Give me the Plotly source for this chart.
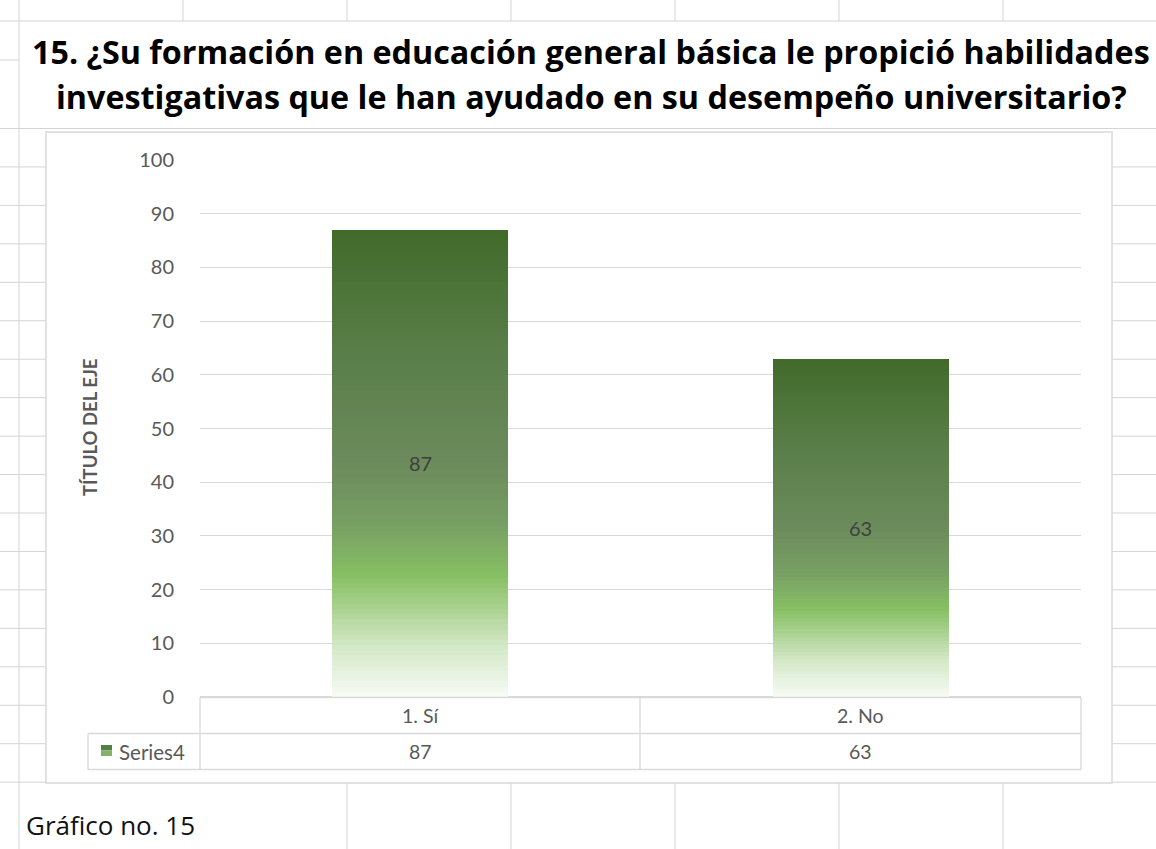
import plotly.graph_objects as go

# ---------------- data ----------------
categories = ["1. Sí", "2. No"]
values = [87, 63]
series_name = "Series4"
y_ticks = [0, 10, 20, 30, 40, 50, 60, 70, 80, 90, 100]
title_lines = [
    "15. ¿Su formación en educación general básica le propició habilidades",
    "investigativas que le han ayudado en su desempeño universitario?",
]
axis_title = "TÍTULO DEL EJE"
caption = "Gráfico no. 15"

# ---------------- geometry (pixels) ----------------
W, H = 1156, 849
PL, PR, PT, PB = 200, 1081, 160, 697  # plot area


def px(x):
    return (x - PL) / (PR - PL)


def py(y):
    return (PB - y) / (PB - PT)


# gradient for bars: position 0 = top, 1 = bottom
grad_stops = [
    (0.00, "#426A2A"),
    (0.25, "#587D47"),
    (0.50, "#6C8B5C"),
    (0.63, "#779F63"),
    (0.74, "#87BF63"),
    (0.81, "#AAD290"),
    (0.89, "#D3E8C6"),
    (1.00, "#F7FBF5"),
]


def hex2rgb(h):
    h = h.lstrip("#")
    return tuple(int(h[i:i + 2], 16) for i in (0, 2, 4))


def grad_color(t):
    for (t0, c0), (t1, c1) in zip(grad_stops[:-1], grad_stops[1:]):
        if t0 <= t <= t1:
            f = (t - t0) / (t1 - t0) if t1 > t0 else 0
            a, b = hex2rgb(c0), hex2rgb(c1)
            r = [round(a[k] + (b[k] - a[k]) * f) for k in range(3)]
            return "rgb(%d,%d,%d)" % tuple(r)
    return grad_stops[-1][1]


fig = go.Figure()

N = 90
for i in range(N):
    t = 1 - (i + 0.5) / N
    fig.add_trace(go.Bar(
        x=categories,
        y=[v / N for v in values],
        marker=dict(color=grad_color(t), line=dict(width=0)),
        showlegend=False,
        hoverinfo="skip",
    ))

# data labels
annotations = []
for c, v in zip(categories, values):
    annotations.append(dict(x=c, y=v / 2, xref="x", yref="y", text=str(v),
                            xanchor="center", yanchor="middle",
                            showarrow=False, font=dict(size=20, color="#404040")))

# data table texts
for c, v in zip(categories, values):
    annotations.append(dict(x=c, y=py(715.5), xref="x", yref="paper", text=c,
                            xanchor="center", yanchor="middle",
                            showarrow=False, font=dict(size=19.5, color="#595959")))
    annotations.append(dict(x=c, y=py(751.5), xref="x", yref="paper", text=str(v),
                            xanchor="center", yanchor="middle",
                            showarrow=False, font=dict(size=19.5, color="#595959")))
annotations.append(dict(x=px(117), y=py(751.5), xref="paper", yref="paper",
                        text=series_name, xanchor="left", yanchor="middle", showarrow=False,
                        font=dict(size=20.5, color="#595959")))

# title
TITLE_FONT = dict(family="Open Sans", size=32.3, color="#000000")
annotations.append(dict(x=px(591), y=py(51), xref="paper", yref="paper",
                        text="<b>%s</b>" % title_lines[0], showarrow=False,
                        xanchor="center", yanchor="middle", font=TITLE_FONT))
annotations.append(dict(x=px(591), y=py(96), xref="paper", yref="paper",
                        text="<b>%s</b>" % title_lines[1], showarrow=False,
                        xanchor="center", yanchor="middle", font=TITLE_FONT))
# axis title
annotations.append(dict(x=px(90), y=py(428), xref="paper", yref="paper",
                        text="<b>%s</b>" % axis_title, showarrow=False, textangle=-90,
                        xanchor="center", yanchor="middle",
                        font=dict(size=18.5, color="#595959")))
# caption
annotations.append(dict(x=px(24), y=py(825), xref="paper", yref="paper",
                        text=caption, showarrow=False, xanchor="left", yanchor="middle",
                        font=dict(family="Open Sans", size=26, color="#111111")))

# ---------------- shapes ----------------
GRID = "#D4D4D4"
shapes = []


def hline(x0, x1, y, color=GRID, w=1, layer="below"):
    shapes.append(dict(type="line", xref="paper", yref="paper", x0=px(x0), x1=px(x1),
                       y0=py(y), y1=py(y), line=dict(color=color, width=w), layer=layer))


def vline(x, y0, y1, color=GRID, w=1, layer="below"):
    shapes.append(dict(type="line", xref="paper", yref="paper", x0=px(x), x1=px(x),
                       y0=py(y0), y1=py(y1), line=dict(color=color, width=w), layer=layer))


# spreadsheet background grid
hline(0, W, 21)
hline(0, 19, 60)
for k in range(18):
    hline(0, W, 128.5 + 38.45 * k)
vline(19, 0, H)
for x in [183, 347, 511, 675, 839, 1003]:
    vline(x, 0, 21)
for x in [347, 511, 675, 839, 1003]:
    vline(x, 783, H)

# chart frame (white, covers spreadsheet grid)
shapes.append(dict(type="rect", xref="paper", yref="paper", x0=px(46), x1=px(1112),
                   y0=py(132), y1=py(783), fillcolor="white",
                   line=dict(color="#D9D9D9", width=1.5), layer="below"))

# data table lines
TB = "#D9D9D9"
hline(200, 1081, 697.5, TB, 1.3, "above")
hline(88, 1081, 733.5, TB, 1.3, "above")
hline(88, 1081, 769.5, TB, 1.3, "above")
vline(88, 733.5, 769.5, TB, 1.3, "above")
for x in [200, 640, 1081]:
    vline(x, 697.5, 769.5, TB, 1.3, "above")

# legend key in table
shapes.append(dict(type="rect", xref="paper", yref="paper", x0=px(101), x1=px(112),
                   y0=py(745), y1=py(750.5), fillcolor="#557F3F", line=dict(width=0),
                   layer="above"))
shapes.append(dict(type="rect", xref="paper", yref="paper", x0=px(101), x1=px(112),
                   y0=py(750.5), y1=py(756), fillcolor="#86B06D", line=dict(width=0),
                   layer="above"))

fig.update_layout(
    width=W, height=H,
    margin=dict(l=PL, r=W - PR, t=PT, b=H - PB, autoexpand=False),
    paper_bgcolor="white",
    plot_bgcolor="rgba(0,0,0,0)",
    font=dict(family="Lato", color="#595959"),
    barmode="stack",
    bargap=0.6,
    showlegend=False,
    annotations=annotations,
    shapes=shapes,
    xaxis=dict(showticklabels=False, showgrid=False, zeroline=False, showline=False,
               ticks="", range=[-0.5, 1.5]),
    yaxis=dict(range=[0, 100], tickvals=y_ticks, showgrid=True, gridcolor="#D9D9D9",
               gridwidth=1.2, zeroline=True, zerolinecolor="#D9D9D9", showline=False,
               ticks="", tickfont=dict(size=20, color="#595959"), ticklabelstandoff=25,
               fixedrange=True),
)

fig.write_html("out.html", config={"displayModeBar": False},
               post_script="document.body.style.margin='0px';")
